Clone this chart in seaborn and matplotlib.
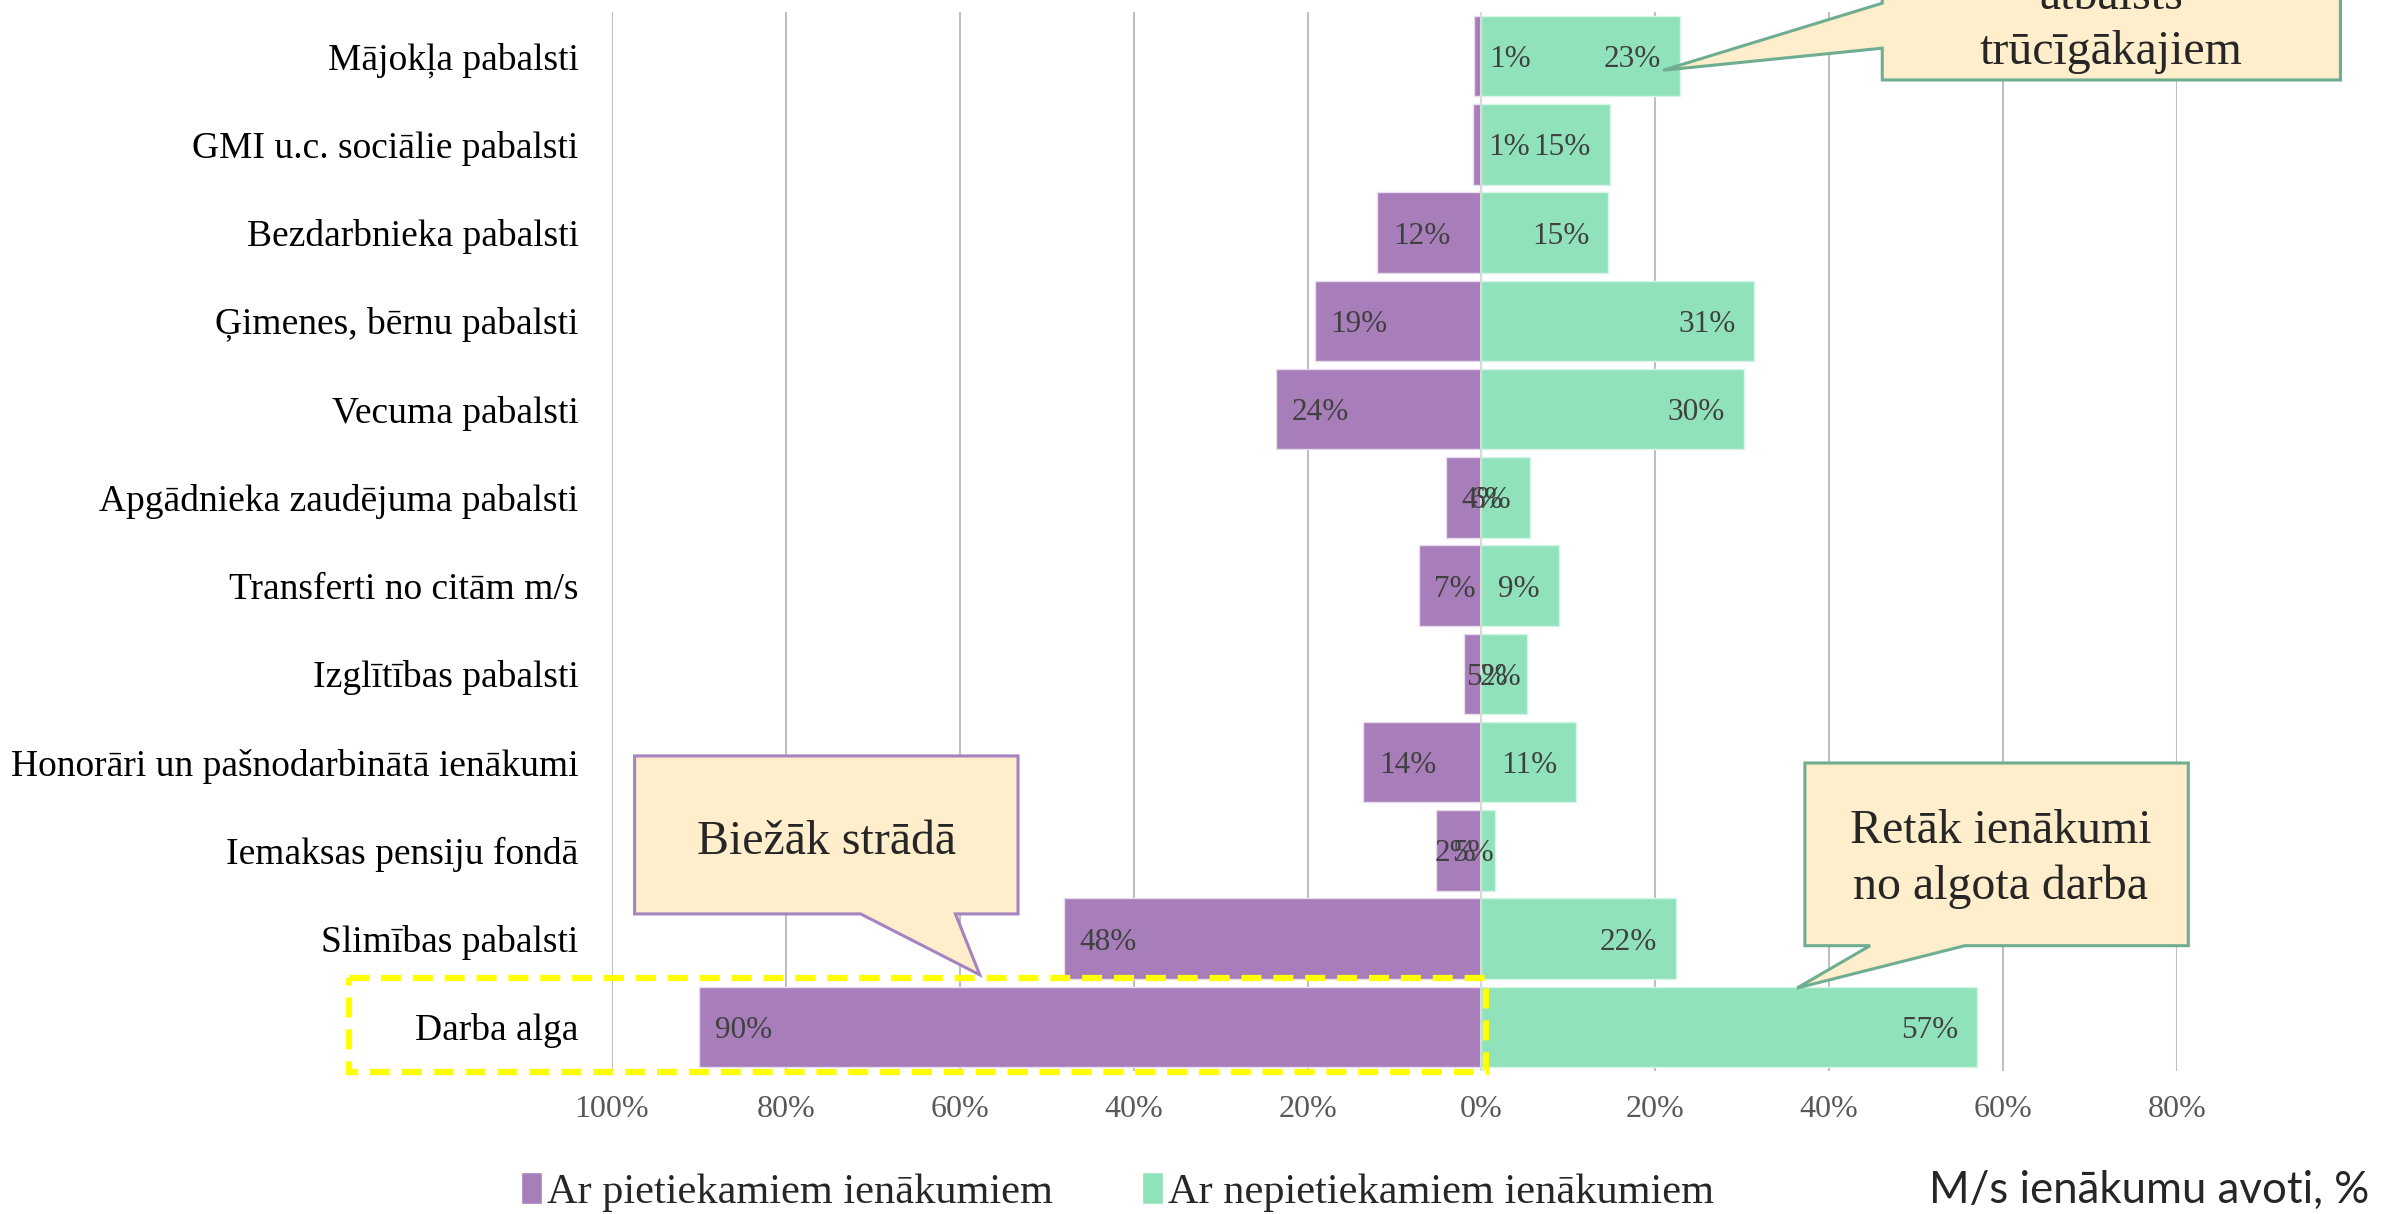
import matplotlib
matplotlib.use("Agg")
import matplotlib.pyplot as plt
from matplotlib.patches import Patch, Polygon, Rectangle
import numpy as np
import pandas as pd
import seaborn as sns

categories = ["Mājokļa pabalsti", "GMI u.c. sociālie pabalsti", "Bezdarbnieka pabalsti",
              "Ģimenes, bērnu pabalsti", "Vecuma pabalsti", "Apgādnieka zaudējuma pabalsti",
              "Transferti no citām m/s", "Izglītības pabalsti",
              "Honorāri un pašnodarbinātā ienākumi", "Iemaksas pensiju fondā",
              "Slimības pabalsti", "Darba alga"]
sufficient = [0.9, 1.0, 12.0, 19.2, 23.6, 4.1, 7.2, 2.0, 13.6, 5.2, 48.0, 90.0]
insufficient = [22.8, 14.8, 14.6, 31.4, 30.2, 5.6, 8.9, 5.2, 10.9, 1.6, 22.4, 57.0]
series_names = ["Ar pietiekamiem ienākumiem", "Ar nepietiekamiem ienākumiem"]
x_ticks = [-100, -80, -60, -40, -20, 0, 20, 40, 60, 80]

purple = "#A77DBA"
green = "#90E2BB"
fill_note = "#FFEECB"

sns.set_style("white")
plt.rcParams["font.family"] = ["Liberation Serif", "DejaVu Serif"]

df = pd.DataFrame({"cat": categories,
                   "left": -np.array(sufficient),
                   "right": np.array(insufficient)})

W, H = 2382, 1214
fig = plt.figure(figsize=(W / 100, H / 100), dpi=100)
ax = fig.add_axes([612 / W, 1 - 1071 / H, (2177 - 612) / W, (1071 - 12) / H])

sns.barplot(data=df, x="left", y="cat", color=purple, orient="h", width=0.91,
            saturation=1, ax=ax, zorder=2, edgecolor="#E6DDEE", linewidth=1)
sns.barplot(data=df, x="right", y="cat", color=green, orient="h", width=0.91,
            saturation=1, ax=ax, zorder=2, edgecolor="#D5F5E6", linewidth=1)

ax.set_xlim(-100, 80)
ax.set_ylim(11.5, -0.5)
ax.set_xticks(x_ticks)
ax.set_xticklabels([f"{abs(t)}%" for t in x_ticks], fontsize=23, color="#595959")
ax.tick_params(axis="y", labelsize=27, pad=24, length=0, labelcolor="black")
ax.tick_params(axis="x", length=0, pad=17)
ax.set_xlabel("")
ax.set_ylabel("")
ax.grid(axis="x", color="#BFBFBF", linewidth=1.5, zorder=0)
ax.set_axisbelow(True)
for s in ax.spines.values():
    s.set_visible(False)
ax.axvline(0, color="#D9D9D9", linewidth=1.5, zorder=3)

# value labels (inside end)
for i, (a, b) in enumerate(zip(sufficient, insufficient)):
    ax.text(-a + 1.8, i, f"{round(a)}%", ha="left", va="center_baseline", fontsize=22.5,
            color="#404040", zorder=4)
    ax.text(b - 2.2, i, f"{round(b)}%", ha="right", va="center_baseline", fontsize=22.5,
            color="#404040", zorder=4)


def callout(box, pointer, side, edge):
    L, R, T, B = box
    p1, p2, tip = pointer
    if side == "bottom":
        pts = [(L, T), (R, T), (R, B), (p2, B), tip, (p1, B), (L, B)]
    else:
        pts = [(L, T), (R, T), (R, B), (L, B), (L, p2), tip, (L, p1)]
    poly = Polygon(pts, closed=True, facecolor=fill_note, edgecolor=edge,
                   linewidth=2.2, clip_on=False, zorder=6)
    ax.add_patch(poly)


callout((-97.4, -53.3, 7.93, 9.72), (-71.4, -60.5, (-57.7, 10.41)), "bottom", "#A583C0")
ax.text(-75.3, 8.9, "Biežāk strādā", ha="center", va="center", fontsize=34.5,
        zorder=7)

callout((37.2, 81.3, 8.01, 10.08), (44.7, 55.6, (36.3, 10.56)), "bottom", "#6EAD90")
ax.text(59.7, 9.1, "Retāk ienākumi\nno algota darba", ha="center", va="center",
        fontsize=34.5, linespacing=1.33, zorder=7)

callout((46.1, 98.8, -1.6, 0.27), (-0.60, -0.09, (20.9, 0.16)), "left", "#6EAD90")
ax.text(72.4, -0.36, "atbalsts\ntrūcīgākajiem", ha="center", va="center",
        fontsize=34.5, linespacing=1.33, zorder=7, clip_on=False)

ax.add_patch(Rectangle((-130.2, 10.45), 130.75, 1.06, fill=False,
                       edgecolor="#FFFF00", linewidth=4.5,
                       linestyle=(0, (3.2, 1.9)), clip_on=False, zorder=8))

handles = [Patch(facecolor=purple), Patch(facecolor=green)]
fig.legend(handles, series_names, loc="center left",
           bbox_to_anchor=(521 / W, 1 - 1192 / H), ncol=2, frameon=False,
           fontsize=30.5, handlelength=0.5, handleheight=0.8, handletextpad=0.12,
           columnspacing=2.1, borderpad=0, borderaxespad=0)

fig.text(1929 / W, 1 - 1190 / H, "M/s ienākumu avoti, %", ha="left", va="center",
         fontsize=31.5, family="Lato")

fig.savefig("out.png", dpi=100)
